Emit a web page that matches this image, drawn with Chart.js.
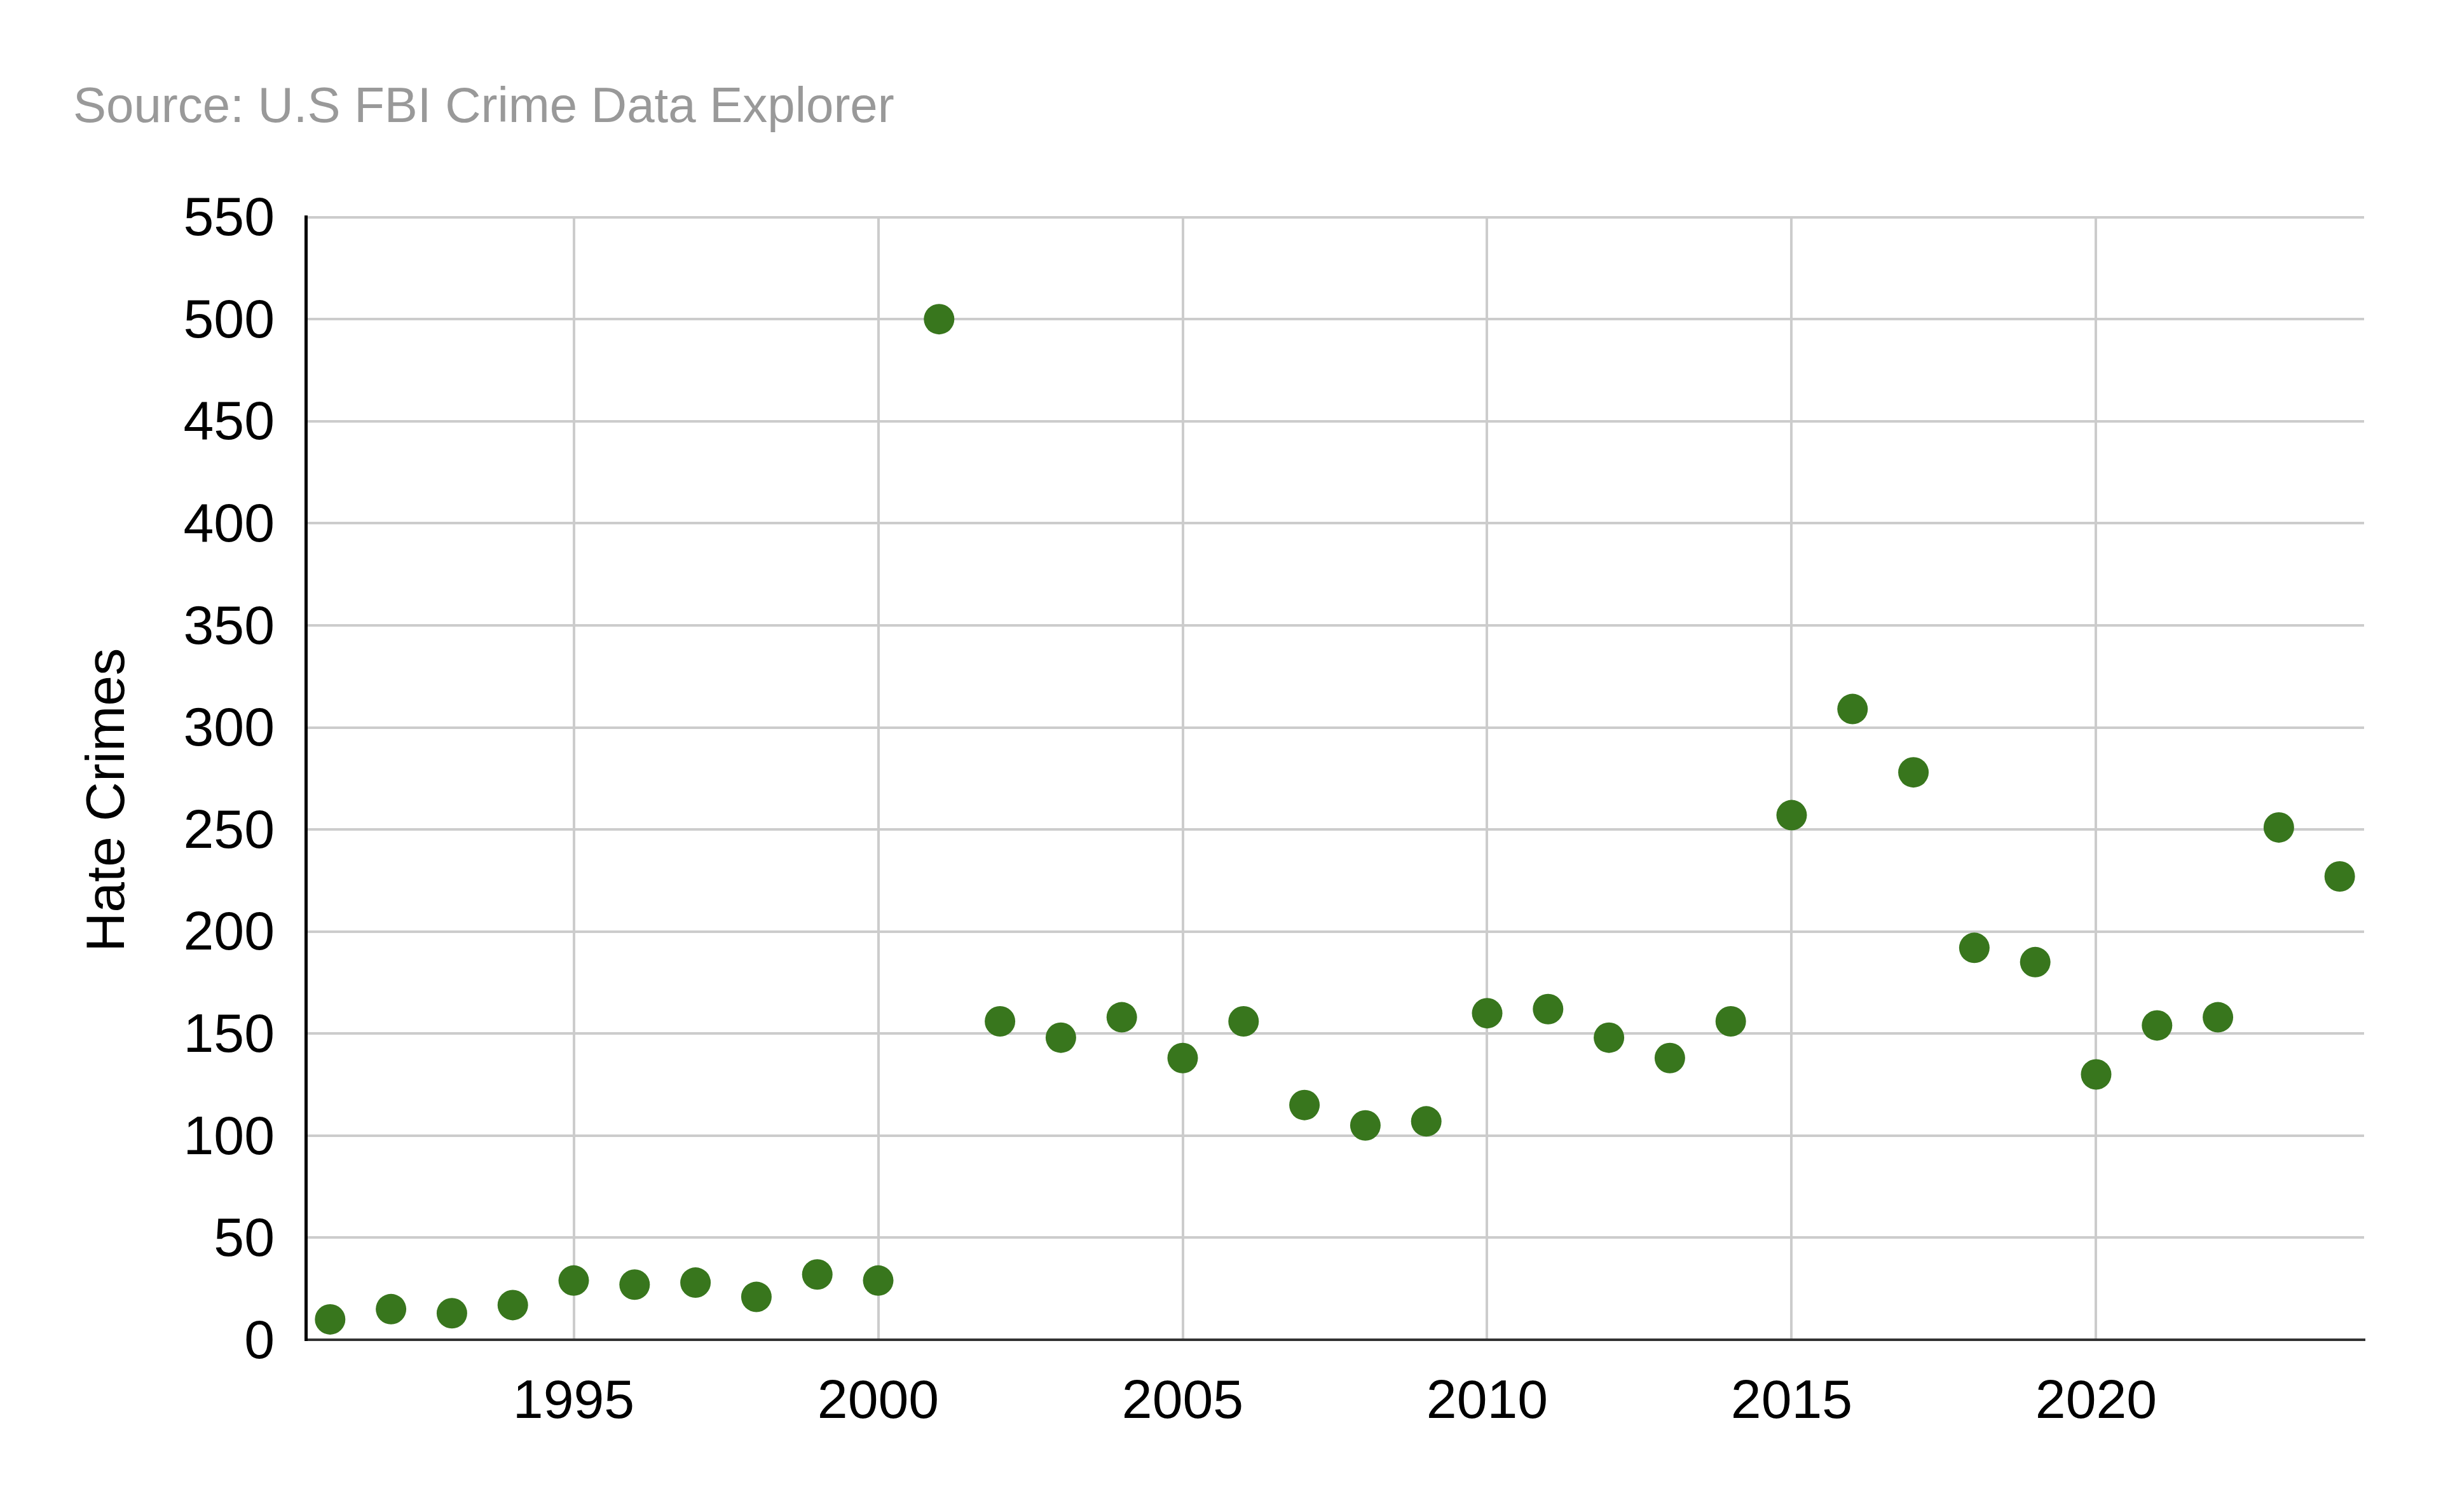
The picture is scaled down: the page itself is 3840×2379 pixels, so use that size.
<!DOCTYPE html>
<html>
<head>
<meta charset="utf-8">
<script src="https://cdn.jsdelivr.net/npm/chart.js@4/dist/chart.umd.min.js"></script>
<style>
  html, body { margin: 0; padding: 0; background: #fff; }
  canvas { display: block; }
</style>
</head>
<body>
<canvas id="chart" width="3840" height="2379" style="width:3840px;height:2379px"></canvas>
<script>
// data
const years = [1991, 1992, 1993, 1994, 1995, 1996, 1997, 1998, 1999, 2000,
  2001, 2002, 2003, 2004, 2005, 2006, 2007, 2008, 2009, 2010,
  2011, 2012, 2013, 2014, 2015, 2016, 2017, 2018, 2019, 2020,
  2021, 2022, 2023, 2024];
const hateCrimes = [10, 15, 13, 17, 29, 27, 28, 21, 32, 29,
  500, 156, 148, 158, 138, 156, 115, 105, 107, 160,
  162, 148, 138, 156, 257, 309, 278, 192, 185, 130,
  154, 158, 251, 227];
const xTicks = [1995, 2000, 2005, 2010, 2015, 2020];
const yTicks = [0, 50, 100, 150, 200, 250, 300, 350, 400, 450, 500, 550];
const yTitle = 'Hate Crimes';

const FONT = '"Liberation Sans", Arial, sans-serif';

// y axis title, drawn a bit below the plot's middle like the original
const yTitlePlugin = {
  id: 'yTitle',
  afterDraw(chart) {
    const { ctx, chartArea } = chart;
    ctx.save();
    ctx.translate(171, (chartArea.top + chartArea.bottom) / 2 + 34);
    ctx.rotate(-Math.PI / 2);
    ctx.font = '86px ' + FONT;
    ctx.fillStyle = '#000';
    ctx.textAlign = 'center';
    ctx.textBaseline = 'middle';
    ctx.fillText(yTitle, 0, 0);
    ctx.restore();
  }
};

const ctx = document.getElementById('chart').getContext('2d');
new Chart(ctx, {
  type: 'scatter',
  data: {
    datasets: [{
      label: yTitle,
      data: years.map((x, i) => ({ x, y: hateCrimes[i] })),
      backgroundColor: '#38761d',
      borderWidth: 0,
      pointRadius: 24,
      pointHoverRadius: 24
    }]
  },
  options: {
    responsive: false,
    animation: false,
    devicePixelRatio: 1,
    layout: { padding: { left: 115, right: 121, top: 0, bottom: 0 } },
    plugins: {
      legend: { display: false },
      tooltip: { enabled: false },
      title: {
        display: true,
        text: 'Source: U.S FBI Crime Data Explorer',
        align: 'start',
        color: '#999999',
        font: { family: FONT, size: 78, weight: 'normal' },
        padding: { top: 124, bottom: 124 }
      }
    },
    scales: {
      x: {
        type: 'linear',
        min: 1990.6,
        max: 2024.4,
        afterBuildTicks: axis => { axis.ticks = xTicks.map(v => ({ value: v })); },
        afterFit: axis => { axis.height = 271; },
        grid: { color: '#cccccc', lineWidth: 4, drawTicks: false },
        border: { display: true, color: '#333333', width: 4 },
        ticks: {
          color: '#000',
          padding: 48,
          font: { family: FONT, size: 86 },
          callback: v => String(v)
        }
      },
      y: {
        min: 0,
        max: 550,
        afterBuildTicks: axis => { axis.ticks = yTicks.map(v => ({ value: v })); },
        afterFit: axis => { axis.width = 366; },
        grid: { color: '#cccccc', lineWidth: 4, drawTicks: false },
        border: { display: true, color: '#000000', width: 5 },
        ticks: {
          color: '#000',
          padding: 49,
          labelOffset: 5,
          font: { family: FONT, size: 86 },
          callback: v => String(v)
        }
      }
    }
  },
  plugins: [yTitlePlugin]
});
</script>
</body>
</html>
